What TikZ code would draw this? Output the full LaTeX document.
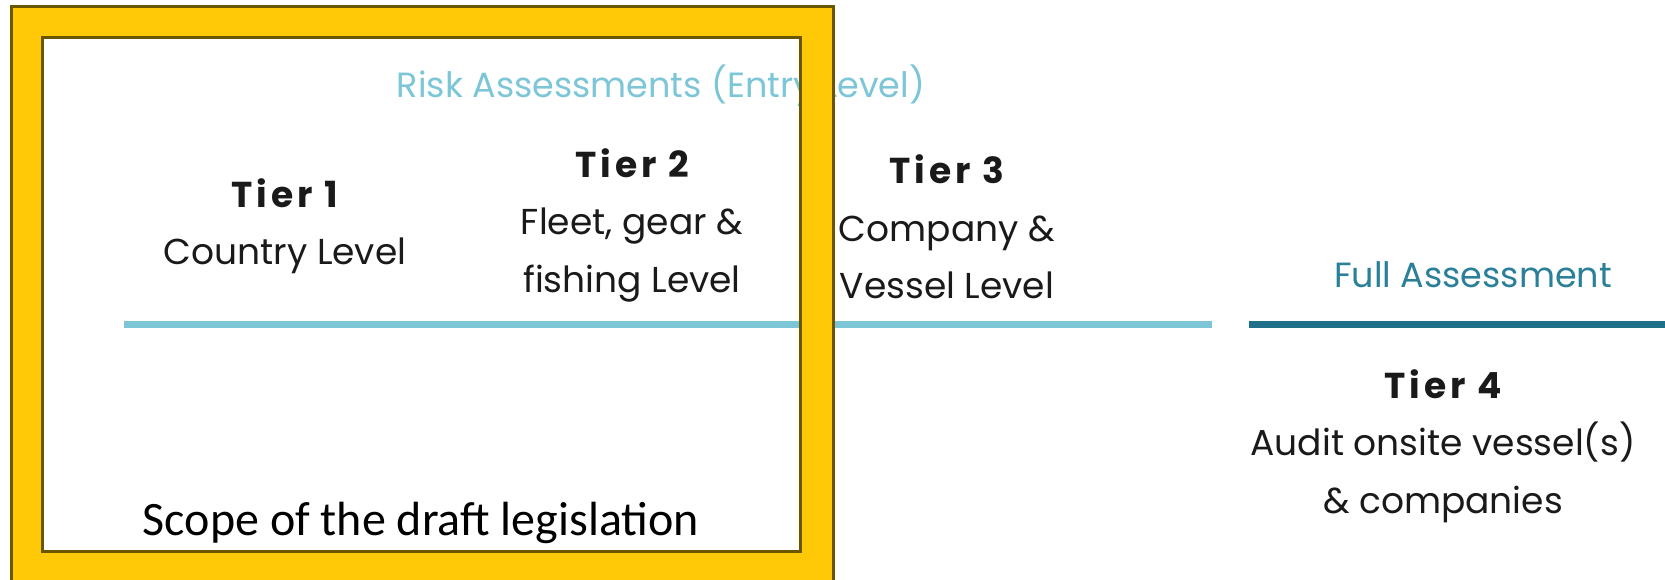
\documentclass[tikz,border=0pt]{standalone}
\usepackage{fontspec}
\setmainfont{Poppins}
\newfontfamily\scopefont{Carlito}
\newfontfamily\tierhead[LetterSpace=11]{Poppins}
\definecolor{riskblue}{HTML}{7CC6D8}
\definecolor{fullteal}{HTML}{1F7189}
\definecolor{fulltext}{HTML}{2B8099}
\definecolor{scopeyellow}{HTML}{FFC907}
\definecolor{scopeedge}{HTML}{6B5600}
\definecolor{tiertext}{HTML}{1A1A1A}
\newcommand{\tiername}[1]{{\tierhead\bfseries #1}}
\begin{document}
\begin{tikzpicture}[x=1pt,y=-1pt,
  tier/.style={align=center,text=tiertext,inner sep=0pt,
    font=\fontsize{36}{57.5}\selectfont},
  heading/.style={inner sep=0pt,font=\fontsize{35}{40}\selectfont},
  band/.style={line width=7pt}]
\useasboundingbox (0,0) rectangle (1665,579);
\fill[white] (0,0) rectangle (1665,579);

% headings
\node[heading,text=riskblue] (risk) at (661,86) {Risk Assessments (Entry Level)};
\node[heading,text=fulltext] (full) at (1473,275) {Full Assessment};

% tier columns
\node[tier] (t1) at (285,226) {\tiername{Tier 1}\\Country Level};
\node[tier] (t2) at (632,225) {\tiername{Tier 2}\\Fleet, gear \&\\fishing Level};
\node[tier] (t3) at (947,227) {\tiername{Tier 3}\\Company \&\\Vessel Level};
\node[tier] (t4) at (1443,446) {\tiername{Tier 4}\\Audit onsite vessel(s)\\\& companies};

% separator bands
\coordinate (rA) at (124,324.5);
\coordinate (rB) at (1212,324.5);
\coordinate (fA) at (1249,324.5);
\coordinate (fB) at (1665,324.5);
\draw[band,riskblue] (rA) -- (rB);
\draw[band,fullteal] (fA) -- (fB);

% scope frame
\fill[scopeyellow,even odd rule] (11,6) rectangle (833,620) (42,37) rectangle (800,551);
\draw[scopeedge,line width=3pt] (11,6) rectangle (833,620);
\draw[scopeedge,line width=3pt] (42,37) rectangle (800,551);
\node[inner sep=0pt,font=\scopefont\fontsize{48}{56}\selectfont] (scope) at (421,523) {Scope of the draft legislation};
\end{tikzpicture}
\end{document}
